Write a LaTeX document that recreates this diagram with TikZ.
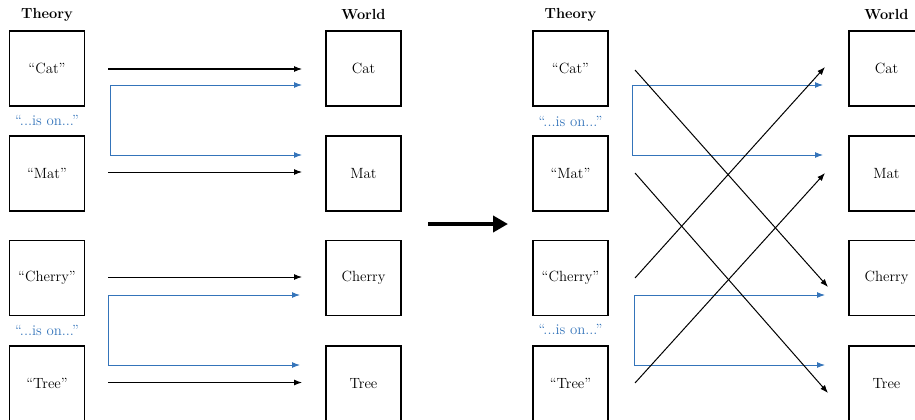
\documentclass[tikz,border=0pt]{standalone}
\usetikzlibrary{arrows.meta}
\definecolor{relblue}{RGB}{52,116,186}
\begin{document}
\begin{tikzpicture}[x=1pt,y=-1pt,
  box/.style={draw,line width=1.1pt,minimum width=75pt,minimum height=75pt,inner sep=0pt,font=\fontsize{14.8}{17}\selectfont},
  head/.style={font=\fontsize{14.6}{17}\selectfont\bfseries},
  rel/.style={text=relblue,font=\fontsize{14.8}{17}\selectfont},
  arr/.style={line width=1pt,-{Latex[length=8pt,width=6pt]}},
  barr/.style={line width=1pt,draw=relblue,{Latex[length=8pt,width=6pt]}-{Latex[length=8pt,width=6pt]}},
  big/.style={line width=4pt,-{Triangle[length=15pt,width=16pt]}}]
\clip (0,0) rectangle (915,420);
\useasboundingbox (0,0) rectangle (915,420);
% ---------- left panel ----------
\node[head] (hth1) at (47,15) {Theory};
\node[head] (hw1) at (363.5,15) {World};
\node[box] (t1cat) at (47,68.5) {“Cat”};
\node[box] (t1mat) at (47,173.5) {“Mat”};
\node[box] (t1che) at (47,278) {“Cherry”};
\node[box] (t1tre) at (47,383.5) {“Tree”};
\node[rel] (r1a) at (47,120) {“...is on...”};
\node[rel] (r1b) at (47,330) {“...is on...”};
\node[box] (w1cat) at (363.5,68.5) {Cat};
\node[box] (w1mat) at (363.5,173.5) {Mat};
\node[box] (w1che) at (363.5,278) {Cherry};
\node[box] (w1tre) at (363.5,383.5) {Tree};
\coordinate (a1s) at (108,69);    \coordinate (a1e) at (302,69);
\coordinate (a2s) at (108,172);   \coordinate (a2e) at (302,172);
\coordinate (a3s) at (108,277);   \coordinate (a3e) at (302,277);
\coordinate (a4s) at (108,382.5); \coordinate (a4e) at (302,382.5);
\coordinate (b1t) at (302,85);  \coordinate (b1c1) at (110,85);
\coordinate (b1c2) at (110,155);\coordinate (b1b) at (302,155);
\coordinate (b2t) at (300,295);  \coordinate (b2c1) at (108.5,295);
\coordinate (b2c2) at (108.5,365);\coordinate (b2b) at (300,365);
\draw[arr] (a1s) -- (a1e);
\draw[arr] (a2s) -- (a2e);
\draw[arr] (a3s) -- (a3e);
\draw[arr] (a4s) -- (a4e);
\draw[barr] (b1t) -- (b1c1) -- (b1c2) -- (b1b);
\draw[barr] (b2t) -- (b2c1) -- (b2c2) -- (b2b);
% ---------- big arrow ----------
\coordinate (bigs) at (428,224); \coordinate (bige) at (508,224);
\draw[big] (bigs) -- (bige);
% ---------- right panel ----------
\node[head] (hth2) at (570.5,15) {Theory};
\node[head] (hw2) at (886.5,15) {World};
\node[box] (t2cat) at (570.5,68.5) {“Cat”};
\node[box] (t2mat) at (570.5,173.5) {“Mat”};
\node[box] (t2che) at (570.5,278) {“Cherry”};
\node[box] (t2tre) at (570.5,383.5) {“Tree”};
\node[rel] (r2a) at (570.5,121) {“...is on...”};
\node[rel] (r2b) at (570.5,329) {“...is on...”};
\node[box] (w2cat) at (886.5,68.5) {Cat};
\node[box] (w2mat) at (886.5,173.5) {Mat};
\node[box] (w2che) at (886.5,278) {Cherry};
\node[box] (w2tre) at (886.5,383.5) {Tree};
\coordinate (c1s) at (635,70);  \coordinate (c1e) at (828,287);
\coordinate (c2s) at (635,173); \coordinate (c2e) at (828,393);
\coordinate (c3s) at (635,278); \coordinate (c3e) at (825,67);
\coordinate (c4s) at (635,383); \coordinate (c4e) at (825,173);
\coordinate (d1t) at (823,85);  \coordinate (d1c1) at (632,85);
\coordinate (d1c2) at (632,155);\coordinate (d1b) at (823,155);
\coordinate (d2t) at (825,295);  \coordinate (d2c1) at (634,295);
\coordinate (d2c2) at (634,365);\coordinate (d2b) at (825,365);
\draw[barr] (d1t) -- (d1c1) -- (d1c2) -- (d1b);
\draw[barr] (d2t) -- (d2c1) -- (d2c2) -- (d2b);
\draw[arr] (c1s) -- (c1e);
\draw[arr] (c2s) -- (c2e);
\draw[arr] (c3s) -- (c3e);
\draw[arr] (c4s) -- (c4e);
\end{tikzpicture}
\end{document}
